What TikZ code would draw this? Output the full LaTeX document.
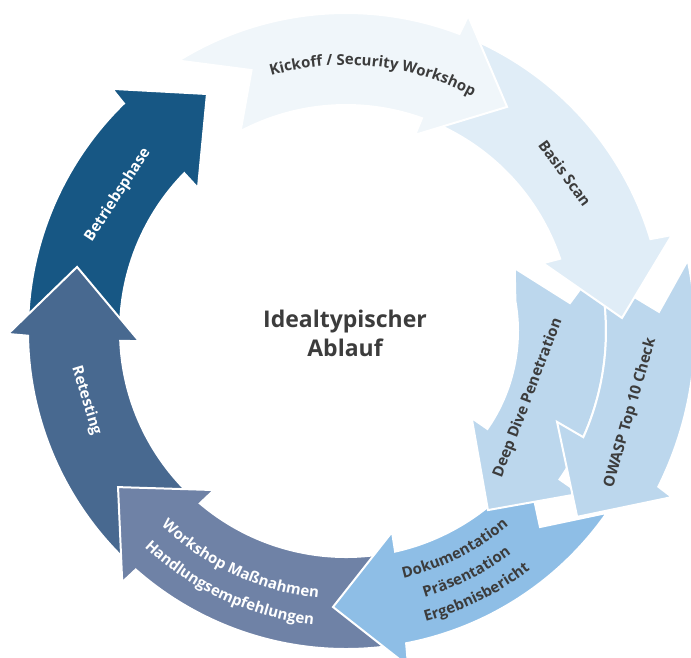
\documentclass[tikz,border=0pt]{standalone}
\usepackage{fontspec}
\setmainfont{Open Sans}
\usetikzlibrary{decorations.text}
\definecolor{cKick}{HTML}{F0F6FA}
\definecolor{cScan}{HTML}{E0EDF7}
\definecolor{cPen}{HTML}{BCD7ED}
\definecolor{cDoc}{HTML}{8EBEE6}
\definecolor{cWork}{HTML}{6F82A6}
\definecolor{cRetest}{HTML}{486990}
\definecolor{cOps}{HTML}{175784}
\definecolor{ink}{HTML}{3C3C3C}
\newcommand\lblfont{\bfseries\fontsize{15}{18}\selectfont}
\begin{document}
\begin{tikzpicture}[x=1pt,y=1pt,
  phase/.style={fill=#1, draw=white, line width=2pt, line join=miter},
  lbl/.style={font=\lblfont, text=ink, inner sep=0pt},
  lblw/.style={lbl, text=white},
  ontrack/.style={decorate, decoration={text along path, text format delimiters={|}{|}, text align=center, text color=#1}},
]
\useasboundingbox (0,0) rectangle (691,-657);
\clip (0,0) rectangle (691,-657);
\begin{scope}[shift={(346,-331)}]
  % Betriebsphase
  \path[phase=cOps] (179:318) arc[start angle=179, end angle=134.3, radius=318pt]
    -- (134.0:336.6) -- (120.4:274.8) -- (136.0:205.8)
    -- (135.7:226) arc[start angle=135.7, end angle=179, radius=226pt] -- cycle;
  % Retesting
  \path[phase=cRetest] (227:318) arc[start angle=227, end angle=180.85, radius=318pt]
    -- (180.5:338) -- (166.6:276.5) -- (182.8:207.2)
    -- (182.5:226) arc[start angle=182.5, end angle=227, radius=226pt] -- cycle;
  % Workshop
  \path[phase=cWork] (279:318) arc[start angle=279, end angle=228.6, radius=318pt]
    -- (228.3:336.4) -- (214.4:276.3) -- (230.3:206.7)
    -- (229.7:226) arc[start angle=229.7, end angle=279, radius=226pt] -- cycle;
  % Dokumentation
  \path[phase=cDoc] (-34.9:318) arc[start angle=-34.9, end angle=-79.1, radius=318pt]
    -- (-79.5:340.7) -- (-92.7:276.3) -- (-77.1:206.2)
    -- (-77.45:226) arc[start angle=-77.45, end angle=-36.8, radius=226pt]
    -- (-45.3:275.8) -- cycle;
  % Deep Dive Penetration
  \path[phase=cPen] (14.6:260) arc[start angle=14.6, end angle=-34.8, radius=260pt]
    -- (-34.8:285) -- (-51.6:228.5) -- (-34.7:152.9)
    -- (-34.7:172) arc[start angle=-34.7, end angle=10, radius=172pt]
    -- (20.4:180) -- (7.1:225.7) -- cycle;
  % OWASP Top 10 Check
  \path[phase=cPen] (11.7:349) arc[start angle=11.7, end angle=-26.5, radius=349pt]
    -- (-27.0:365.8) -- (-38.8:296.6) -- (-23.3:229.8)
    -- (-24.1:260) arc[start angle=-24.1, end angle=12.1, radius=260pt]
    -- (3.5:313.6) -- cycle;
  % Basis Scan
  \path[phase=cScan] (67:318) arc[start angle=67, end angle=16.8, radius=318pt]
    -- (16.4:339.8) -- (2.7:276.3) -- (19.0:208.4)
    -- (18.65:226) arc[start angle=18.65, end angle=67, radius=226pt] -- cycle;
  % Kickoff
  \path[phase=cKick] (121.75:318) arc[start angle=121.75, end angle=69.1, radius=318pt]
    -- (68.8:338) -- (54.3:276) -- (70.6:208)
    -- (70.35:226) arc[start angle=70.35, end angle=117.8, radius=226pt]
    -- (109.9:277.5) -- cycle;

  % labels
  \path[ontrack=ink, decoration={text={|\lblfont|Kickoff / Security Workshop}}]
    (128:266) arc[start angle=128, end angle=40, radius=266pt];
  \node[lbl, rotate=-54] (scan) at (35.8:270) {Basis Scan};
  \node[lbl, rotate=69] (deep) at (-20.2:194) {Deep Dive Penetration};
  \node[lbl, rotate=74] (owasp) at (-16.1:296) {OWASP Top 10 Check};
  \path[ontrack=ink, decoration={text={|\lblfont|Dokumentation}}]
    (-95:253.5) arc[start angle=-95, end angle=-32, radius=253.5pt];
  \path[ontrack=ink, decoration={text={|\lblfont|Präsentation}}]
    (-95:277.5) arc[start angle=-95, end angle=-32, radius=277.5pt];
  \path[ontrack=ink, decoration={text={|\lblfont|Ergebnisbericht}}]
    (-95:301.5) arc[start angle=-95, end angle=-32, radius=301.5pt];
  \path[ontrack=white, decoration={text={|\lblfont|Workshop Maßnahmen}}]
    (212:268.5) arc[start angle=212, end angle=278.6, radius=268.5pt];
  \path[ontrack=white, decoration={text={|\lblfont|Handlungsempfehlungen}}]
    (212:295.5) arc[start angle=212, end angle=278.6, radius=295.5pt];
  \node[lblw, rotate=-73] (retest) at (195:269) {Retesting};
  \node[lblw, rotate=57] (ops) at (149.2:265.5) {Betriebsphase};
\end{scope}
\node[font=\bfseries\fontsize{23}{29}\selectfont, text=ink, align=center] (title) at (345,-333) {Idealtypischer\\Ablauf};
\end{tikzpicture}
\end{document}
